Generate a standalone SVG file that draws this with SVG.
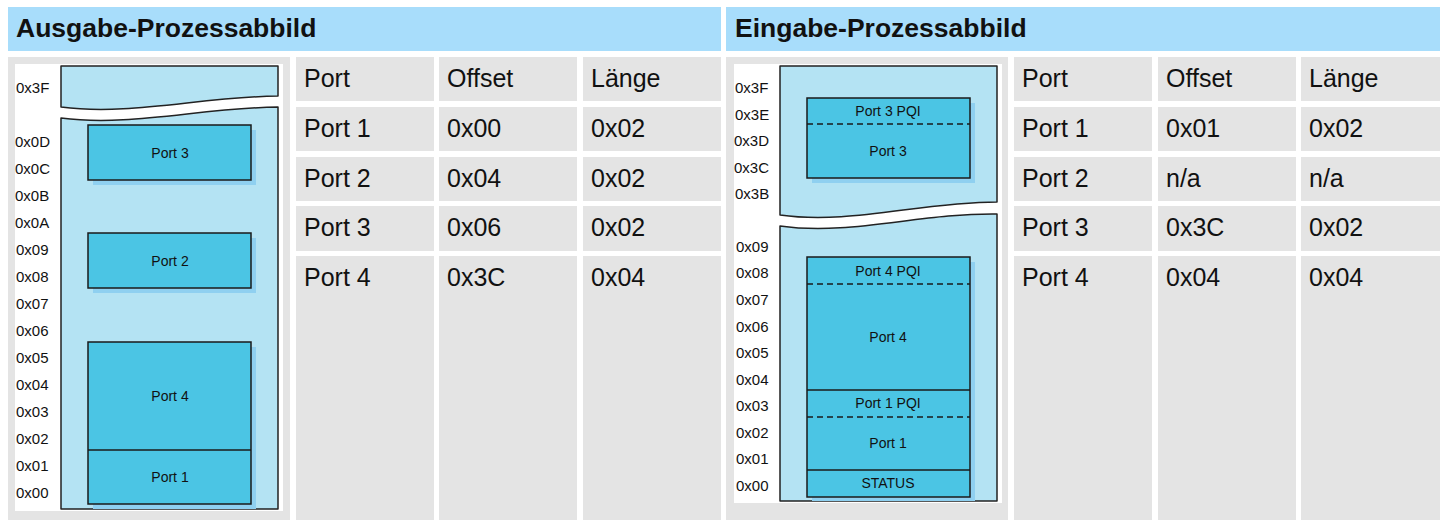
<svg xmlns="http://www.w3.org/2000/svg" width="1445" height="520" viewBox="0 0 1445 520">
<style>
.bg{fill:#ffffff}
.hdr{fill:#a8ddfb}
.cell{fill:#e4e4e4}
.white{fill:#ffffff}
.mem{fill:#b4e3f3;stroke:#222;stroke-width:1.5;stroke-linejoin:round}
.box{fill:#4bc5e4;stroke:#1a1a1a;stroke-width:1.5}
.shadow{fill:#8fd0f0}
.dash{stroke:#1a1a1a;stroke-width:1.5;stroke-dasharray:6,4;fill:none}
.sep{stroke:#1a1a1a;stroke-width:1.5;fill:none}
.htxt{font-family:"Liberation Sans",Arial,sans-serif;font-weight:bold;font-size:26.5px;fill:#111}
.ttxt{font-family:"Liberation Sans",Arial,sans-serif;font-size:25px;fill:#111}
.addr{font-family:"Liberation Sans",Arial,sans-serif;font-size:15px;fill:#111}
.blbl{font-family:"Liberation Sans",Arial,sans-serif;font-size:14px;fill:#111;text-anchor:middle}
</style>
<rect class="bg" x="0" y="0" width="1445" height="520"/>

<!-- Headers -->
<g id="header-ausgabe">
<rect class="hdr" x="8" y="7" width="713" height="44"/>
<text class="htxt" x="16" y="37">Ausgabe-Prozessabbild</text>
</g>
<g id="header-eingabe">
<rect class="hdr" x="726" y="7" width="714" height="44"/>
<text class="htxt" x="735" y="37">Eingabe-Prozessabbild</text>
</g>

<!-- Left diagram -->
<g id="ausgabe-diagram">
<rect class="cell" x="8" y="57" width="282" height="463"/>
<rect class="white" x="15" y="64" width="268" height="447"/>
<path class="mem" d="M61,66 L278,66 L278,96 C200,97 130,116 61,107 Z"/>
<path class="mem" d="M61,118 C130,127 200,108 278,107 L278,509 L61,509 Z"/>
<g class="addr">
<text x="16" y="93">0x3F</text>
<text x="15" y="147">0x0D</text>
<text x="15" y="174">0x0C</text>
<text x="15" y="201">0x0B</text>
<text x="15" y="228">0x0A</text>
<text x="16" y="255">0x09</text>
<text x="16" y="282">0x08</text>
<text x="16" y="309">0x07</text>
<text x="16" y="336">0x06</text>
<text x="16" y="363">0x05</text>
<text x="16" y="390">0x04</text>
<text x="16" y="417">0x03</text>
<text x="16" y="444">0x02</text>
<text x="16" y="471">0x01</text>
<text x="16" y="498">0x00</text>
</g>
</g>
<g id="out-port3">
<rect class="shadow" x="93" y="130" width="163" height="55"/>
<rect class="box" x="88" y="125" width="163" height="55"/>
<text class="blbl" x="170" y="158">Port 3</text>
</g>
<g id="out-port2">
<rect class="shadow" x="93" y="238" width="163" height="55"/>
<rect class="box" x="88" y="233" width="163" height="55"/>
<text class="blbl" x="170" y="266">Port 2</text>
</g>
<g id="out-port4-port1">
<rect class="shadow" x="93" y="347" width="163" height="162"/>
<rect class="box" x="88" y="342" width="163" height="162"/>
<line class="sep" x1="88" y1="450" x2="251" y2="450"/>
<text class="blbl" x="170" y="401">Port 4</text>
<text class="blbl" x="170" y="482">Port 1</text>
</g>

<!-- Left table -->
<g id="ausgabe-table">
<rect class="cell" x="296" y="57" width="138" height="44"/>
<rect class="cell" x="439" y="57" width="138" height="44"/>
<rect class="cell" x="583" y="57" width="138" height="44"/>
<rect class="cell" x="296" y="107" width="138" height="44"/>
<rect class="cell" x="439" y="107" width="138" height="44"/>
<rect class="cell" x="583" y="107" width="138" height="44"/>
<rect class="cell" x="296" y="157" width="138" height="44"/>
<rect class="cell" x="439" y="157" width="138" height="44"/>
<rect class="cell" x="583" y="157" width="138" height="44"/>
<rect class="cell" x="296" y="206" width="138" height="45"/>
<rect class="cell" x="439" y="206" width="138" height="45"/>
<rect class="cell" x="583" y="206" width="138" height="45"/>
<rect class="cell" x="296" y="256" width="138" height="264"/>
<rect class="cell" x="439" y="256" width="138" height="264"/>
<rect class="cell" x="583" y="256" width="138" height="264"/>
<g class="ttxt">
<text x="304" y="87">Port</text><text x="447" y="87">Offset</text><text x="591" y="87">Länge</text>
<text x="304" y="137">Port 1</text><text x="447" y="137">0x00</text><text x="591" y="137">0x02</text>
<text x="304" y="187">Port 2</text><text x="447" y="187">0x04</text><text x="591" y="187">0x02</text>
<text x="304" y="236">Port 3</text><text x="447" y="236">0x06</text><text x="591" y="236">0x02</text>
<text x="304" y="286">Port 4</text><text x="447" y="286">0x3C</text><text x="591" y="286">0x04</text>
</g>
</g>

<!-- Right diagram -->
<g id="eingabe-diagram">
<rect class="cell" x="726" y="57" width="282" height="463"/>
<rect class="white" x="734" y="64" width="268" height="439"/>
<path class="mem" d="M780,66 L997,66 L997,202 C920,202 850,225 780,215 Z"/>
<path class="mem" d="M780,226 C850,236 920,213 997,214 L997,501 L780,501 Z"/>
<g class="addr">
<text x="735" y="93">0x3F</text>
<text x="735" y="120">0x3E</text>
<text x="734" y="146">0x3D</text>
<text x="734" y="173">0x3C</text>
<text x="735" y="199">0x3B</text>
<text x="736" y="252">0x09</text>
<text x="736" y="278">0x08</text>
<text x="736" y="305">0x07</text>
<text x="736" y="332">0x06</text>
<text x="736" y="358">0x05</text>
<text x="736" y="385">0x04</text>
<text x="736" y="411">0x03</text>
<text x="736" y="438">0x02</text>
<text x="736" y="464">0x01</text>
<text x="736" y="491">0x00</text>
</g>
</g>
<g id="in-port3">
<rect class="shadow" x="812" y="103" width="163" height="80"/>
<rect class="box" x="807" y="98" width="163" height="80"/>
<line class="dash" x1="807" y1="124" x2="970" y2="124"/>
<text class="blbl" x="888" y="116">Port 3 PQI</text>
<text class="blbl" x="888" y="156">Port 3</text>
</g>
<g id="in-lower">
<rect class="shadow" x="812" y="262" width="163" height="239"/>
<rect class="box" x="807" y="257" width="163" height="240"/>
<line class="dash" x1="807" y1="284" x2="970" y2="284"/>
<line class="sep" x1="807" y1="390" x2="970" y2="390"/>
<line class="dash" x1="807" y1="417" x2="970" y2="417"/>
<line class="sep" x1="807" y1="470" x2="970" y2="470"/>
<text class="blbl" x="888" y="276">Port 4 PQI</text>
<text class="blbl" x="888" y="342">Port 4</text>
<text class="blbl" x="888" y="408">Port 1 PQI</text>
<text class="blbl" x="888" y="448">Port 1</text>
<text class="blbl" x="888" y="488">STATUS</text>
</g>

<!-- Right table -->
<g id="eingabe-table">
<rect class="cell" x="1014" y="57" width="138" height="44"/>
<rect class="cell" x="1158" y="57" width="138" height="44"/>
<rect class="cell" x="1301" y="57" width="139" height="44"/>
<rect class="cell" x="1014" y="107" width="138" height="44"/>
<rect class="cell" x="1158" y="107" width="138" height="44"/>
<rect class="cell" x="1301" y="107" width="139" height="44"/>
<rect class="cell" x="1014" y="157" width="138" height="44"/>
<rect class="cell" x="1158" y="157" width="138" height="44"/>
<rect class="cell" x="1301" y="157" width="139" height="44"/>
<rect class="cell" x="1014" y="206" width="138" height="45"/>
<rect class="cell" x="1158" y="206" width="138" height="45"/>
<rect class="cell" x="1301" y="206" width="139" height="45"/>
<rect class="cell" x="1014" y="256" width="138" height="264"/>
<rect class="cell" x="1158" y="256" width="138" height="264"/>
<rect class="cell" x="1301" y="256" width="139" height="264"/>
<g class="ttxt">
<text x="1022" y="87">Port</text><text x="1166" y="87">Offset</text><text x="1309" y="87">Länge</text>
<text x="1022" y="137">Port 1</text><text x="1166" y="137">0x01</text><text x="1309" y="137">0x02</text>
<text x="1022" y="187">Port 2</text><text x="1166" y="187">n/a</text><text x="1309" y="187">n/a</text>
<text x="1022" y="236">Port 3</text><text x="1166" y="236">0x3C</text><text x="1309" y="236">0x02</text>
<text x="1022" y="286">Port 4</text><text x="1166" y="286">0x04</text><text x="1309" y="286">0x04</text>
</g>
</g>
</svg>
